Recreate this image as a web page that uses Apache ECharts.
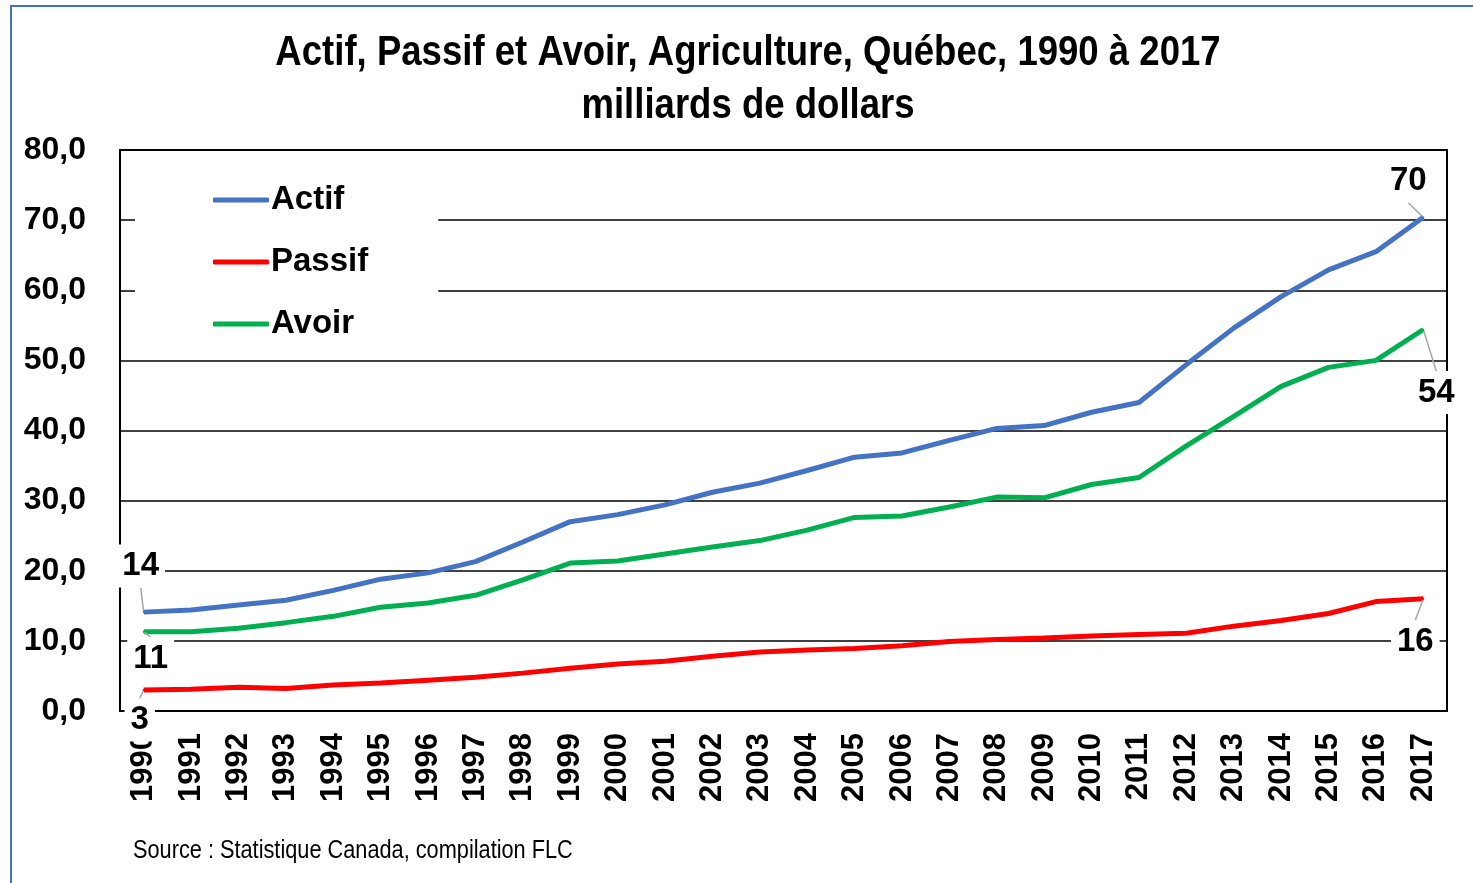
<!DOCTYPE html>
<html>
<head>
<meta charset="utf-8">
<script src="https://cdn.jsdelivr.net/npm/echarts@6/dist/echarts.min.js"></script>
<style>
  html, body { margin: 0; padding: 0; background: #fff; }
  #chart { width: 1473px; height: 883px; }
</style>
</head>
<body>
<div id="chart"></div>
<script>
// années
var years = ['1990','1991','1992','1993','1994','1995','1996','1997','1998','1999',
  '2000','2001','2002','2003','2004','2005','2006','2007','2008','2009',
  '2010','2011','2012','2013','2014','2015','2016','2017'];
// milliards de dollars
var actif = [14.1,14.4,15.1,15.8,17.2,18.8,19.7,21.3,24.1,27.0,28.0,29.4,31.2,32.5,
  34.3,36.2,36.8,38.6,40.3,40.7,42.6,44.0,49.4,54.6,59.1,62.9,65.5,70.4];
var passif = [3.0,3.1,3.4,3.2,3.7,4.0,4.4,4.8,5.4,6.1,6.7,7.1,7.8,8.4,
  8.7,8.9,9.3,9.9,10.2,10.4,10.7,10.9,11.1,12.1,12.9,13.9,15.6,16.0];
var avoir = [11.3,11.3,11.8,12.6,13.5,14.8,15.4,16.5,18.7,21.1,21.4,22.4,23.4,24.3,
  25.8,27.6,27.8,29.1,30.5,30.4,32.3,33.3,37.8,42.0,46.3,49.0,50.0,54.4];
var yTicks = [0,10,20,30,40,50,60,70,80];

var FONT = "'Liberation Sans', Arial, sans-serif";
var NARROW = 0.85; // pas de police étroite installée -> on compresse le texte

// décalage des étiquettes (premier, dernier point) par série
var labelShift = {
  'Actif':  [[-3, -46], [-15, -36]],
  'Passif': [[-4, 30], [-8, 43]],
  'Avoir':  [[7, 27], [13, 63]]
};

function withEndLabels(values) {
  var last = values.length - 1;
  return values.map(function (v, i) {
    if (i === 0 || i === last) {
      return { value: v, label: { show: true } };
    }
    return v;
  });
}

function makeSeries(name, values, color) {
  return {
    name: name,
    type: 'line',
    data: withEndLabels(values),
    symbol: 'circle',
    symbolSize: 2,
    showSymbol: true,
    itemStyle: { color: color },
    lineStyle: { color: color, width: 5 },
    label: {
      show: false,
      position: 'inside',
      formatter: function (p) { return Math.round(p.value); },
      color: '#000',
      fontFamily: FONT,
      fontWeight: 'bold',
      fontSize: 33,
      backgroundColor: '#fff',
      padding: [5, 6]
    },
    labelLine: {
      show: true,
      lineStyle: { color: '#a6a6a6', width: 1.5 }
    },
    labelLayout: function (p) {
      var s = labelShift[name];
      var o = p.dataIndex === 0 ? s[0] : s[1];
      return { dx: o[0], dy: o[1] };
    },
    emphasis: { disabled: true },
    animation: false
  };
}

var chart = echarts.init(document.getElementById('chart'));
chart.setOption({
  animation: false,
  backgroundColor: '#fff',
  graphic: [
    {
      type: 'rect',
      shape: { x: 11, y: 6, width: 1500, height: 900 },
      style: { fill: 'none', stroke: '#4472c4', lineWidth: 2 },
      silent: true
    },
    {
      type: 'text',
      x: 748,
      y: 53,
      scaleX: NARROW,
      style: {
        text: 'Actif, Passif et Avoir, Agriculture, Québec, 1990 à 2017',
        align: 'center',
        verticalAlign: 'middle',
        fontFamily: FONT,
        fontWeight: 'bold',
        fontSize: 43,
        fill: '#000'
      }
    },
    {
      type: 'text',
      x: 748,
      y: 106,
      scaleX: NARROW,
      style: {
        text: 'milliards de dollars',
        align: 'center',
        verticalAlign: 'middle',
        fontFamily: FONT,
        fontWeight: 'bold',
        fontSize: 43,
        fill: '#000'
      }
    },
    {
      type: 'text',
      x: 133,
      y: 851,
      scaleX: 0.836,
      style: {
        text: 'Source : Statistique Canada, compilation FLC',
        align: 'left',
        verticalAlign: 'middle',
        fontFamily: FONT,
        fontSize: 26,
        fill: '#000'
      }
    }
  ],
  legend: {
    orient: 'vertical',
    left: 135,
    top: 176,
    padding: [6, 70, 6, 78],
    backgroundColor: '#fff',
    itemGap: 26,
    itemWidth: 56,
    itemHeight: 5,
    icon: 'roundRect',
    data: ['Actif', 'Passif', 'Avoir'],
    textStyle: {
      fontFamily: FONT,
      fontWeight: 'bold',
      fontSize: 33,
      lineHeight: 36,
      color: '#000',
      padding: [0, 0, 0, -3]
    }
  },
  grid: {
    left: 120,
    right: 26,
    top: 150,
    bottom: 172,
    show: true,
    borderColor: '#000',
    borderWidth: 2,
    containLabel: false
  },
  xAxis: {
    type: 'category',
    data: years,
    boundaryGap: true,
    axisLine: { show: false },
    axisTick: { show: false },
    splitLine: { show: false },
    axisLabel: {
      rotate: 90,
      margin: 22,
      interval: 0,
      color: '#000',
      fontFamily: FONT,
      fontWeight: 'bold',
      fontSize: 31
    }
  },
  yAxis: {
    type: 'value',
    min: yTicks[0],
    max: yTicks[yTicks.length - 1],
    interval: 10,
    axisLine: { show: false },
    axisTick: { show: false },
    splitLine: { show: true, lineStyle: { color: '#000', width: 1.5 } },
    axisLabel: {
      margin: 34,
      color: '#000',
      fontFamily: FONT,
      fontWeight: 'bold',
      fontSize: 32,
      formatter: function (v) { return v.toFixed(1).replace('.', ','); }
    }
  },
  series: [
    makeSeries('Actif', actif, '#4472c4'),
    makeSeries('Passif', passif, '#ff0000'),
    makeSeries('Avoir', avoir, '#00b050')
  ]
});
</script>
</body>
</html>
